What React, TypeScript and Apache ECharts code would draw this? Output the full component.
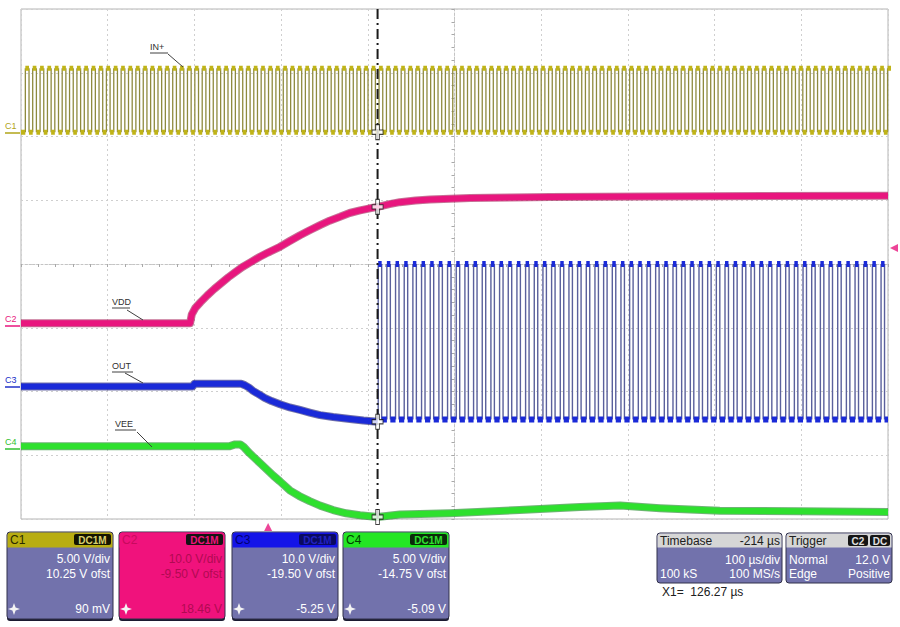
import React, { useEffect, useRef } from "react";
import * as echarts from "echarts";

// ---------- time base (µs, relative to trigger) ----------
const TIME_MIN_US = -285;
const TIME_MAX_US = 715;
const CURSOR_US = 126.27;
const TRIGGER_LEVEL_V = 12.0;

// ---------- channel settings ----------
const CH_NAMES = ["C1", "C2", "C3", "C4"];
const V_PER_DIV = [5, 10, 10, 5];
const OFFSET_V = [10.25, -9.5, -19.5, -14.75];
const V_DIV_TEXT = ["5.00 V/div", "10.0 V/div", "10.0 V/div", "5.00 V/div"];
const OFST_TEXT = ["10.25 V ofst", "-9.50 V ofst", "-19.50 V ofst", "-14.75 V ofst"];
const CURSOR_TEXT = ["90 mV", "18.46 V", "-5.25 V", "-5.09 V"];
const CURSOR_VALUES_V = [0.09, 18.46, -5.25, -5.09];
const TRACE_LABELS = ["IN+", "VDD", "OUT", "VEE"];

// ---------- C1 : IN+ square wave (rising edges, µs) ----------
const IN_RISING_US = [
  -280, -271.5, -263, -254.5, -246, -237.5, -229, -220.5, -212, -203.5, -195, -186.5, -178, -169.5,
  -161, -152.5, -144, -135.5, -127, -118.5, -110, -101.5, -93, -84.5, -76, -67.5, -59, -50.5, -42,
  -33.5, -25, -16.5, -8, 0.5, 9, 17.5, 26, 34.5, 43, 51.5, 60, 68.5, 77, 85.5, 94, 102.5, 111, 119.5,
  128, 136.5, 145, 153.5, 162, 170.5, 179, 187.5, 196, 204.5, 213, 221.5, 230, 238.5, 247, 255.5,
  264, 272.5, 281, 289.5, 298, 306.5, 315, 323.5, 332, 340.5, 349, 357.5, 366, 374.5, 383, 391.5,
  400, 408.5, 417, 425.5, 434, 442.5, 451, 459.5, 468, 476.5, 485, 493.5, 502, 510.5, 519, 527.5,
  536, 544.5, 553, 561.5, 570, 578.5, 587, 595.5, 604, 612.5, 621, 629.5, 638, 646.5, 655, 663.5,
  672, 680.5, 689, 697.5, 706, 714.5,
];
const IN_HIGH_TIME_US = 4.25;
const IN_LOW_V = 0.09;
const IN_HIGH_V = 5.1;

// ---------- C2 : VDD ----------
const VDD_T_US = [-285, -90, -88, -84, -78, -70, -62, -54, -46, -38, -30, -20, -10, 0, 13.7, 25, 36.8, 48, 59.9, 71, 82.9, 94, 106, 116, 126.27, 140, 152, 170, 186.7, 210, 233, 280, 325, 440, 715];
const VDD_V = [0.2, 0.2, 1.6, 2.6, 3.5, 4.6, 5.6, 6.5, 7.4, 8.2, 9.0, 9.8, 10.6, 11.3, 12.2, 13.1, 14.0, 14.8, 15.6, 16.3, 16.9, 17.5, 17.9, 18.2, 18.46, 18.9, 19.2, 19.45, 19.6, 19.75, 19.85, 19.95, 20.0, 20.1, 20.2];

// ---------- C3 : OUT ----------
const OUT_T_US = [-285, -87, -85, -31, -27, -22, -17.4, -10, -4, 4, 13.7, 25, 36.8, 48, 59.9, 75, 94.5, 110, 126.27];
const OUT_V = [0.3, 0.3, 0.7, 0.7, 0.5, 0.1, -0.4, -1.0, -1.5, -2.0, -2.5, -3.0, -3.4, -3.8, -4.2, -4.5, -4.8, -5.05, -5.25];
const OUT_RISING_US = [
  127, 137, 147, 157, 167, 177, 187, 197, 207, 217, 227, 237, 247, 257, 267, 277, 287, 297, 307, 317,
  327, 337, 347, 357, 367, 377, 387, 397, 407, 417, 427, 437, 447, 457, 467, 477, 487, 497, 507, 517,
  527, 537, 547, 557, 567, 577, 587, 597, 607, 617, 627, 637, 647, 657, 667, 677, 687, 697, 707,
];
const OUT_HIGH_TIME_US = 4;
const OUT_LOW_V = -4.9;
const OUT_HIGH_V = 19.5;

// ---------- C4 : VEE ----------
const VEE_T_US = [-285, -45, -38, -32, -28, -22, -15, -8, -1, 6, 13.7, 25, 36, 48, 60, 75, 90, 106, 126.27, 152, 210, 290, 360, 406, 452, 521, 613, 715];
const VEE_V = [0.45, 0.45, 0.6, 0.6, 0.4, -0.05, -0.5, -0.95, -1.4, -1.85, -2.3, -3.0, -3.45, -3.85, -4.2, -4.55, -4.8, -4.95, -5.09, -4.9, -4.8, -4.55, -4.3, -4.2, -4.4, -4.6, -4.65, -4.7];

// ---------- styling ----------
const FONT = "'Liberation Sans', Arial, sans-serif";
const COL_C1 = "#c0b418";
const COL_C2 = "#e8167e";
const COL_C3 = "#1a2ad8";
const COL_C4 = "#2ee02e";
const BODY = "#7272ac";

type Pt = [number, number | string];

function zip(t: number[], v: number[]): Pt[] {
  return t.map((x, i) => [x, v[i]] as Pt);
}

function square(rises: number[], highTime: number, lo: number, hi: number, start: number) {
  const edges: Pt[] = [];
  const plateaus: Pt[] = [];
  let prevFall = start;
  for (const r of rises) {
    const f = r + highTime;
    plateaus.push([prevFall, lo], [r, lo], [r, "-"]);
    plateaus.push([r, hi], [f, hi], [f, "-"]);
    edges.push([r, lo], [r, hi], [r, "-"], [f, hi], [f, lo], [f, "-"]);
    prevFall = f;
  }
  if (prevFall < TIME_MAX_US) plateaus.push([prevFall, lo], [TIME_MAX_US, lo]);
  return { edges, plateaus };
}

function lineSeries(data: Pt[], yIdx: number, color: string, width: number, z = 2, opacity = 1) {
  return {
    type: "line",
    xAxisIndex: 1,
    yAxisIndex: yIdx,
    data,
    showSymbol: false,
    symbol: "none",
    silent: true,
    connectNulls: false,
    z,
    lineStyle: { color, width, opacity, cap: "butt", join: "round" },
    emphasis: { disabled: true },
  };
}

function boxGraphics() {
  const xs = [7, 119, 232, 343];
  const w = 106;
  const y = 532;
  const h = 87;
  const header = ["#b8ad12", "#f0127c", "#1414e8", "#24e624"];
  const body = [BODY, "#f0127c", BODY, BODY];
  const bodyText = ["#ffffff", "#b00a52", "#ffffff", "#ffffff"];
  const nameCol = ["#2a2a00", "#c80a5e", "#000070", "#004000"];
  const badgeFill = ["#141400", "#141414", "#0a0a60", "#0a2a0a"];
  const badgeText = ["#d8d070", "#f0127c", "#2020c0", "#30e030"];
  const els: any[] = [];
  xs.forEach((x, i) => {
    els.push({ type: "rect", shape: { x, y: y + 2, width: w, height: h, r: 3 }, style: { fill: "#1a1a30" }, z: 10 });
    els.push({ type: "rect", shape: { x, y, width: w, height: h, r: 3 }, style: { fill: body[i], stroke: "#30304a", lineWidth: 1 }, z: 11 });
    els.push({ type: "rect", shape: { x: x + 0.5, y: y + 0.5, width: w - 1, height: 15, r: [3, 3, 0, 0] }, style: { fill: header[i] }, z: 12 });
    els.push({ type: "text", x: x + 3, y: y + 8, style: { text: CH_NAMES[i], fill: nameCol[i], font: `12px ${FONT}`, verticalAlign: "middle" }, z: 13 });
    els.push({ type: "rect", shape: { x: x + w - 39, y: y + 2, width: 37, height: 11, r: 2 }, style: { fill: badgeFill[i] }, z: 13 });
    els.push({ type: "text", x: x + w - 20.5, y: y + 8, style: { text: "DC1M", fill: badgeText[i], font: `bold 10px ${FONT}`, align: "center", verticalAlign: "middle" }, z: 14 });
    els.push({ type: "text", x: x + w - 3, y: y + 27, style: { text: V_DIV_TEXT[i], fill: bodyText[i], font: `12px ${FONT}`, align: "right", verticalAlign: "middle" }, z: 13 });
    els.push({ type: "text", x: x + w - 3, y: y + 42, style: { text: OFST_TEXT[i], fill: bodyText[i], font: `12px ${FONT}`, align: "right", verticalAlign: "middle" }, z: 13 });
    els.push({ type: "text", x: x + w - 3, y: y + 77, style: { text: CURSOR_TEXT[i], fill: bodyText[i], font: `12px ${FONT}`, align: "right", verticalAlign: "middle" }, z: 13 });
    const cx = x + 7;
    const cy = y + 77;
    els.push({
      type: "polygon",
      shape: { points: [[cx, cy - 6], [cx + 1.6, cy - 1.6], [cx + 6, cy], [cx + 1.6, cy + 1.6], [cx, cy + 6], [cx - 1.6, cy + 1.6], [cx - 6, cy], [cx - 1.6, cy - 1.6]] },
      style: { fill: "#f4f4f4" },
      z: 13,
    });
  });

  // Timebase box
  const tx = 657, ty = 533, tw = 125, th = 50;
  els.push({ type: "rect", shape: { x: tx, y: ty, width: tw, height: th, r: 3 }, style: { fill: BODY, stroke: "#30304a", lineWidth: 1 }, z: 11 });
  els.push({ type: "rect", shape: { x: tx + 0.5, y: ty + 0.5, width: tw - 1, height: 14, r: [3, 3, 0, 0] }, style: { fill: "#d6d6d6" }, z: 12 });
  els.push({ type: "text", x: tx + 3, y: ty + 8, style: { text: "Timebase", fill: "#202020", font: `12px ${FONT}`, verticalAlign: "middle" }, z: 13 });
  els.push({ type: "text", x: tx + tw - 2, y: ty + 8, style: { text: "-214 µs", fill: "#202020", font: `12px ${FONT}`, align: "right", verticalAlign: "middle" }, z: 13 });
  els.push({ type: "text", x: tx + tw - 2, y: ty + 27, style: { text: "100 µs/div", fill: "#fff", font: `12px ${FONT}`, align: "right", verticalAlign: "middle" }, z: 13 });
  els.push({ type: "text", x: tx + 3, y: ty + 41, style: { text: "100 kS", fill: "#fff", font: `12px ${FONT}`, verticalAlign: "middle" }, z: 13 });
  els.push({ type: "text", x: tx + tw - 2, y: ty + 41, style: { text: "100 MS/s", fill: "#fff", font: `12px ${FONT}`, align: "right", verticalAlign: "middle" }, z: 13 });

  // Trigger box
  const gx = 786, gw = 106;
  els.push({ type: "rect", shape: { x: gx, y: ty, width: gw, height: th, r: 3 }, style: { fill: BODY, stroke: "#30304a", lineWidth: 1 }, z: 11 });
  els.push({ type: "rect", shape: { x: gx + 0.5, y: ty + 0.5, width: gw - 1, height: 14, r: [3, 3, 0, 0] }, style: { fill: "#d6d6d6" }, z: 12 });
  els.push({ type: "text", x: gx + 3, y: ty + 8, style: { text: "Trigger", fill: "#202020", font: `12px ${FONT}`, verticalAlign: "middle" }, z: 13 });
  els.push({ type: "rect", shape: { x: gx + 62, y: ty + 2, width: 20, height: 11, r: 2 }, style: { fill: "#151515" }, z: 13 });
  els.push({ type: "text", x: gx + 72, y: ty + 8, style: { text: "C2", fill: "#e0e0e0", font: `bold 10px ${FONT}`, align: "center", verticalAlign: "middle" }, z: 14 });
  els.push({ type: "rect", shape: { x: gx + 84, y: ty + 2, width: 20, height: 11, r: 2 }, style: { fill: "#151515" }, z: 13 });
  els.push({ type: "text", x: gx + 94, y: ty + 8, style: { text: "DC", fill: "#e0e0e0", font: `bold 10px ${FONT}`, align: "center", verticalAlign: "middle" }, z: 14 });
  els.push({ type: "text", x: gx + 3, y: ty + 27, style: { text: "Normal", fill: "#fff", font: `12px ${FONT}`, verticalAlign: "middle" }, z: 13 });
  els.push({ type: "text", x: gx + gw - 2, y: ty + 27, style: { text: "12.0 V", fill: "#fff", font: `12px ${FONT}`, align: "right", verticalAlign: "middle" }, z: 13 });
  els.push({ type: "text", x: gx + 3, y: ty + 41, style: { text: "Edge", fill: "#fff", font: `12px ${FONT}`, verticalAlign: "middle" }, z: 13 });
  els.push({ type: "text", x: gx + gw - 2, y: ty + 41, style: { text: "Positive", fill: "#fff", font: `12px ${FONT}`, align: "right", verticalAlign: "middle" }, z: 13 });

  els.push({ type: "text", x: 662, y: 592, style: { text: "X1=  126.27 µs", fill: "#202020", font: `12px ${FONT}`, verticalAlign: "middle" }, z: 13 });
  return els;
}

function annotationGraphics() {
  const els: any[] = [];
  const marks = [
    { y: 126, col: "#b0a418" },
    { y: 319, col: COL_C2 },
    { y: 380, col: "#2030c8" },
    { y: 442, col: "#30c030" },
  ];
  marks.forEach((m, i) => {
    els.push({ type: "text", x: 5, y: m.y, style: { text: CH_NAMES[i], fill: m.col, font: `9px ${FONT}`, verticalAlign: "middle" }, z: 20 });
    els.push({ type: "line", shape: { x1: 5, y1: m.y + 7, x2: 20, y2: m.y + 7 }, style: { stroke: m.col, lineWidth: 1.5 }, z: 20 });
  });
  const labels = [
    { x: 150, y: 47, uw: 18, lx1: 168, ly1: 54, lx2: 183, ly2: 67 },
    { x: 112, y: 302, uw: 18, lx1: 127, ly1: 310, lx2: 143, ly2: 320 },
    { x: 112, y: 366, uw: 21, lx1: 125, ly1: 373, lx2: 143, ly2: 383 },
    { x: 115, y: 424, uw: 21, lx1: 137, ly1: 432, lx2: 152, ly2: 447 },
  ];
  labels.forEach((l, i) => {
    els.push({ type: "text", x: l.x, y: l.y, style: { text: TRACE_LABELS[i], fill: "#303030", font: `9px ${FONT}`, verticalAlign: "middle" }, z: 20 });
    els.push({ type: "line", shape: { x1: l.x, y1: l.y + 6, x2: l.x + l.uw, y2: l.y + 6 }, style: { stroke: "#404040", lineWidth: 1 }, z: 20 });
    els.push({ type: "line", shape: { x1: l.lx1, y1: l.ly1, x2: l.lx2, y2: l.ly2 }, style: { stroke: "#404040", lineWidth: 1 }, z: 20 });
  });
  return els;
}

export default function App() {
  const ref = useRef<HTMLDivElement>(null);
  useEffect(() => {
    if (!ref.current) return;
    const chart = echarts.init(ref.current, undefined, { renderer: "svg" });

    const c1 = square(IN_RISING_US, IN_HIGH_TIME_US, IN_LOW_V, IN_HIGH_V, TIME_MIN_US);
    const c3 = square(OUT_RISING_US, OUT_HIGH_TIME_US, OUT_LOW_V, OUT_HIGH_V, CURSOR_US);

    const gridAxisCommon = {
      type: "value",
      interval: 1,
      axisLabel: { show: false },
      axisLine: { show: true, onZero: true, onZeroAxisIndex: 0, lineStyle: { color: "#c4c4c4", type: [2, 2], width: 1 } },
      axisTick: { show: true, length: 3, lineStyle: { color: "#a8a8a8" } },
      minorTick: { show: true, splitNumber: 5, length: 3, lineStyle: { color: "#a8a8a8" } },
      splitLine: { show: true, lineStyle: { color: "#cfcfcf", type: [2, 3], width: 1 } },
    };

    const channelAxes = V_PER_DIV.map((vd, i) => ({
      type: "value",
      min: -4 * vd - OFFSET_V[i],
      max: 4 * vd - OFFSET_V[i],
      show: false,
    }));

    const crossSymbol = "path://M4,0H8V5H12V9H8V14H4V9H0V5H4Z";
    const crossSeries = CURSOR_VALUES_V.map((v, i) => ({
      type: "scatter",
      xAxisIndex: 1,
      yAxisIndex: i + 1,
      data: [[CURSOR_US, v]],
      symbol: crossSymbol,
      symbolSize: [11, 15],
      silent: true,
      z: 8,
      itemStyle: { color: "#ffffff", borderColor: "#111", borderWidth: 1 },
    }));

    const option: any = {
      animation: false,
      backgroundColor: "#ffffff",
      grid: { left: 21, top: 9, width: 867, height: 510, show: true, borderColor: "#b4b4b4", borderWidth: 1, backgroundColor: "transparent" },
      xAxis: [
        { ...gridAxisCommon, min: -5, max: 5 },
        { type: "value", min: TIME_MIN_US, max: TIME_MAX_US, show: false },
      ],
      yAxis: [{ ...gridAxisCommon, min: -4, max: 4 }, ...channelAxes],
      series: [
        // C1 IN+
        lineSeries(c1.edges, 1, "#8e8a3e", 1.3, 3),
        lineSeries(c1.plateaus, 1, COL_C1, 5, 4),
        // C2 VDD
        lineSeries(zip(VDD_T_US, VDD_V), 2, "#a0104e", 8, 4, 0.6),
        lineSeries(zip(VDD_T_US, VDD_V), 2, COL_C2, 6, 5),
        // C3 OUT
        lineSeries(zip(OUT_T_US, OUT_V), 3, "#101070", 8, 4, 0.6),
        lineSeries(zip(OUT_T_US, OUT_V), 3, COL_C3, 6, 5),
        lineSeries(c3.edges, 3, "#5a609c", 1.4, 3),
        lineSeries(c3.plateaus, 3, COL_C3, 6, 5),
        // C4 VEE
        lineSeries(zip(VEE_T_US, VEE_V), 4, "#10801a", 8, 4, 0.6),
        lineSeries(zip(VEE_T_US, VEE_V), 4, COL_C4, 6, 5),
        // cursor X1
        {
          type: "line",
          xAxisIndex: 1,
          yAxisIndex: 0,
          data: [[CURSOR_US, -4], [CURSOR_US, 4]],
          showSymbol: false,
          symbol: "none",
          silent: true,
          z: 7,
          lineStyle: { color: "#1a1a1a", width: 2, type: [10, 4, 2, 4] },
        },
        ...crossSeries,
        {
          type: "scatter",
          xAxisIndex: 1,
          yAxisIndex: 2,
          data: [[TIME_MAX_US, TRIGGER_LEVEL_V]],
          symbol: "triangle",
          symbolSize: 8,
          symbolRotate: 90,
          symbolOffset: [6, 0],
          clip: false,
          silent: true,
          itemStyle: { color: COL_C2 },
        },
        {
          type: "scatter",
          xAxisIndex: 1,
          yAxisIndex: 0,
          data: [[0, -4]],
          symbol: "triangle",
          symbolSize: 8,
          symbolOffset: [0, 8],
          clip: false,
          silent: true,
          itemStyle: { color: COL_C2 },
        },
      ],
      graphic: [...annotationGraphics(), ...boxGraphics()],
    };
    chart.setOption(option);
    return () => chart.dispose();
  }, []);

  return (
    <div
      ref={ref}
      style={{ position: "absolute", left: 0, top: 0, width: 900, height: 627, background: "#fff" }}
    />
  );
}
